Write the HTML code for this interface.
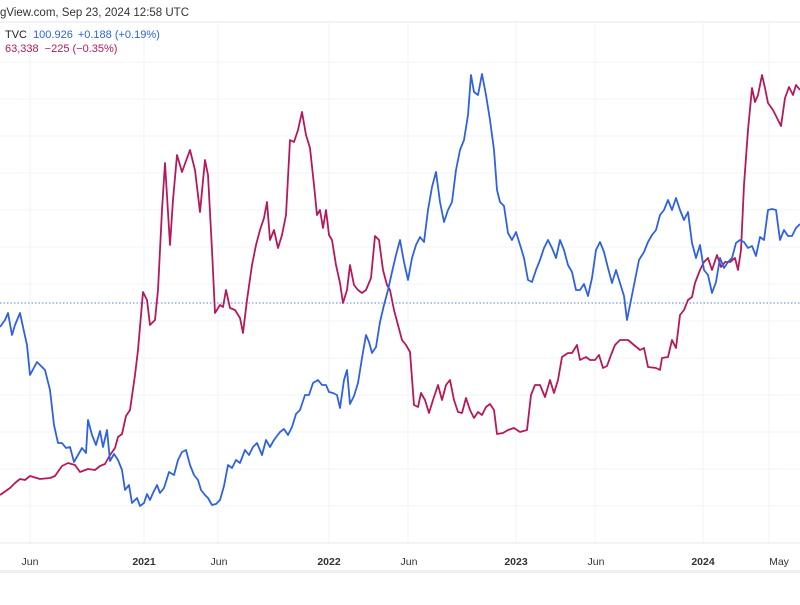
<!DOCTYPE html>
<html><head><meta charset="utf-8"><style>
body{margin:0;background:#fff;width:800px;height:600px;overflow:hidden;font-family:"Liberation Sans",sans-serif}
</style></head><body>
<svg width="800" height="600" xmlns="http://www.w3.org/2000/svg" font-family="Liberation Sans, sans-serif">
<rect width="800" height="600" fill="#fff"/>
<g stroke="#f2f3f5" stroke-width="1">
<line x1="0" y1="62" x2="800" y2="62"/><line x1="0" y1="99" x2="800" y2="99"/><line x1="0" y1="136" x2="800" y2="136"/>
<line x1="0" y1="173" x2="800" y2="173"/><line x1="0" y1="210" x2="800" y2="210"/><line x1="0" y1="247" x2="800" y2="247"/>
<line x1="0" y1="284" x2="800" y2="284"/><line x1="0" y1="321" x2="800" y2="321"/><line x1="0" y1="358" x2="800" y2="358"/>
<line x1="0" y1="395" x2="800" y2="395"/><line x1="0" y1="432" x2="800" y2="432"/><line x1="0" y1="469" x2="800" y2="469"/>
<line x1="0" y1="506" x2="800" y2="506"/>
<line x1="30" y1="22" x2="30" y2="543"/><line x1="144" y1="22" x2="144" y2="543"/><line x1="218" y1="22" x2="218" y2="543"/>
<line x1="329" y1="22" x2="329" y2="543"/><line x1="408" y1="22" x2="408" y2="543"/><line x1="516" y1="22" x2="516" y2="543"/>
<line x1="595" y1="22" x2="595" y2="543"/><line x1="703" y1="22" x2="703" y2="543"/><line x1="769" y1="22" x2="769" y2="543"/>
</g>
<line x1="0" y1="22" x2="800" y2="22" stroke="#e6e7ea"/>
<line x1="0" y1="543" x2="800" y2="543" stroke="#e6e7ea"/>
<rect x="0" y="570" width="800" height="3" fill="#eeeff1"/>
<line x1="0" y1="303" x2="800" y2="303" stroke="#5b84e8" stroke-dasharray="1.5,2" stroke-width="1"/>
<polyline fill="none" stroke="#b5195c" stroke-width="1.8" stroke-linejoin="round" points="0,495 10,488 15,483 20,479 25,480 30,476 40,479 50,478 55,476 62,466 68,463 75,465 80,472 88,469 95,470 100,466 105,464 110,455 115,448 118,437 122,434 126,416 130,410 135,375 138,350 143,292 147,300 150,325 155,320 158,290 162,210 165,163 170,245 173,200 177,155 182,172 190,150 195,170 200,212 205,160 208,175 212,250 215,313 220,305 223,307 226,290 230,308 235,310 240,318 243,333 247,300 252,265 256,245 260,230 264,218 267,202 270,240 274,230 278,248 282,235 286,215 290,140 294,142 298,130 302,112 306,135 310,148 314,185 317,215 320,210 323,228 326,210 329,235 332,240 336,265 340,283 343,303 347,290 350,265 354,285 358,290 362,293 366,290 371,278 375,236 379,240 383,270 387,285 390,290 394,310 398,325 402,340 406,345 410,352 414,405 418,407 421,393 425,400 429,413 433,400 438,385 442,400 446,385 450,380 454,400 458,412 462,413 466,398 470,410 474,418 478,412 482,415 486,407 490,404 494,410 497,434 503,433 508,430 514,428 520,432 527,430 531,395 535,385 540,385 545,397 550,380 554,393 558,380 562,357 568,353 572,353 577,345 580,360 586,357 590,360 595,360 599,355 603,368 607,366 611,355 615,345 620,340 628,340 634,345 640,350 644,348 648,367 656,368 660,370 662,358 668,357 672,340 676,348 680,315 684,310 688,300 692,297 695,283 700,270 704,262 708,258 712,270 717,255 721,267 725,262 730,262 735,258 738,270 741,250 744,185 748,130 752,88 755,102 758,95 762,75 765,88 768,103 773,110 777,118 781,126 785,98 789,87 793,95 796,85 800,90"/>
<polyline fill="none" stroke="#2f62e0" stroke-width="1.8" stroke-linejoin="round" points="0,327 5,320 8,313 12,335 15,325 20,313 23,327 27,345 30,375 37,362 42,367 45,370 50,390 54,425 58,443 62,443 66,448 70,447 74,462 78,455 82,448 86,453 88,420 92,435 96,445 100,431 103,447 107,430 110,461 114,454 118,460 122,470 125,490 129,485 132,503 137,498 140,506 144,503 147,494 150,500 153,493 157,485 160,493 164,488 169,472 174,475 178,460 182,452 186,450 190,465 194,475 198,480 201,490 205,495 208,498 212,505 216,504 220,500 224,486 228,465 232,468 236,460 240,463 245,450 249,455 253,447 257,443 262,455 266,440 270,447 274,440 280,432 284,429 288,435 292,427 296,414 300,410 305,395 309,395 313,383 318,380 322,385 326,385 329,392 333,393 337,395 340,408 344,380 347,370 350,404 354,396 358,383 362,358 366,335 369,342 372,353 376,347 380,322 384,305 388,290 392,272 396,255 400,240 404,262 408,280 412,258 416,245 420,237 424,242 428,210 432,187 436,172 440,202 444,222 448,210 452,202 456,170 460,150 464,140 468,115 471,75 474,92 478,95 482,74 486,95 490,120 494,150 497,190 500,202 504,206 508,233 512,240 516,232 521,248 524,258 528,280 532,282 536,270 540,260 544,248 548,240 552,248 556,258 560,240 564,250 568,265 572,272 576,290 580,290 584,284 588,296 592,278 596,250 600,242 604,252 608,268 612,283 616,270 620,283 624,296 627,320 631,300 635,280 639,260 644,252 648,242 652,235 656,230 660,215 664,210 668,200 672,210 676,198 680,210 684,220 688,212 692,243 696,258 700,245 704,270 708,275 712,293 716,282 720,258 724,268 728,262 732,258 736,243 740,240 744,242 748,248 752,246 756,256 760,237 764,240 768,210 772,209 776,210 780,240 784,230 788,236 792,236 796,228 800,224"/>
<text x="0" y="16" font-size="11.5" fill="#333">gView.com, Sep 23, 2024 12:58 UTC</text>
<text x="5" y="38" font-size="11" fill="#222">TVC <tspan fill="#2f62e0" dx="3">100.926</tspan><tspan fill="#2f62e0" dx="5">+0.188 (+0.19%)</tspan></text>
<text x="5" y="52" font-size="11" fill="#b5195c">63,338<tspan dx="6">−225 (−0.35%)</tspan></text>
<g font-size="10.5" fill="#333" text-anchor="middle">
<text x="30" y="565">Jun</text>
<text x="144" y="565" font-weight="bold">2021</text>
<text x="219" y="565">Jun</text>
<text x="329" y="565" font-weight="bold">2022</text>
<text x="409" y="565">Jun</text>
<text x="516" y="565" font-weight="bold">2023</text>
<text x="596" y="565">Jun</text>
<text x="703" y="565" font-weight="bold">2024</text>
<text x="779" y="565">May</text>
</g>
</svg>
</body></html>
